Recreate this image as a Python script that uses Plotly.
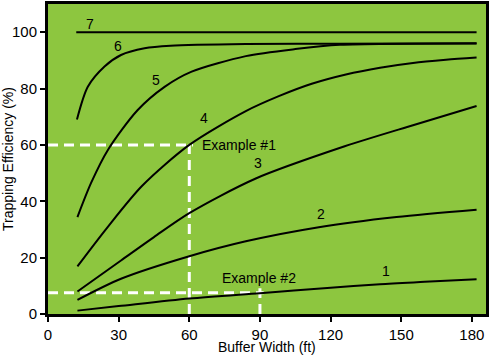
import plotly.graph_objects as go

# ---- data ----
c1_x = [12.5, 30, 60, 90, 120, 141, 160, 182]
c1_y = [1.2, 2.8, 5.5, 7.4, 9.3, 10.6, 11.4, 12.3]

c2_x = [12.5, 31, 60, 84, 115, 148, 182]
c2_y = [5.0, 12.5, 20.5, 25.8, 30.8, 34.4, 37.0]

c3_x = [12.5, 31, 45, 60, 88, 126, 155, 182]
c3_y = [8.0, 19.0, 27.3, 35.8, 48.0, 59.5, 67.0, 73.8]

c4_x = [12.5, 25, 40, 60, 84, 98, 112, 126.5, 141, 155, 169, 182]
c4_y = [16.9, 30.5, 45.5, 60.0, 72.0, 77.3, 81.7, 85.0, 87.4, 89.1, 90.2, 91.0]

c5_x = [12.5, 18.3, 25.5, 38, 49.5, 61, 84, 105, 124, 182]
c5_y = [34.4, 46.5, 58.3, 72.3, 80.6, 86.0, 91.5, 94.0, 95.5, 96.0]

c6_x = [12.3, 16.9, 24, 31, 41, 52, 84, 124, 182]
c6_y = [69.0, 80.6, 87.8, 91.9, 94.3, 95.2, 95.8, 95.9, 96.1]

c7_x = [12, 182]
c7_y = [100, 100]

curves = [(c1_x, c1_y), (c2_x, c2_y), (c3_x, c3_y), (c4_x, c4_y),
          (c5_x, c5_y), (c6_x, c6_y), (c7_x, c7_y)]

curve_labels = ["1", "2", "3", "4", "5", "6", "7"]
label_x = [143.5, 116, 89.3, 66.4, 45.9, 29.6, 18]
label_y = [15.4, 35.6, 53.6, 69.4, 83, 95.1, 103]

examples = ["Example #1", "Example #2"]
ex_x = [60, 90]
ex_y = [60, 7.5]
ex_label_x = [81, 89.5]
ex_label_y = [60, 12.8]

x_ticks = [0, 30, 60, 90, 120, 150, 180]
y_ticks = [0, 20, 40, 60, 80, 100]

GREEN = "#8DC63F"
FONT = "Arial, Liberation Sans, sans-serif"
OVER = 1.6  # small cross overshoot of the example guides

fig = go.Figure()

# example guide lines (white dashed)
for xv, yv in zip(ex_x, ex_y):
    fig.add_trace(go.Scatter(x=[0, xv + OVER], y=[yv, yv], mode="lines",
                             line=dict(color="white", width=3, dash="10px,6px"),
                             hoverinfo="skip", showlegend=False))
    fig.add_trace(go.Scatter(x=[xv, xv], y=[0, yv + OVER], mode="lines",
                             line=dict(color="white", width=3, dash="10px,6px"),
                             hoverinfo="skip", showlegend=False))

for cx, cy in curves:
    fig.add_trace(go.Scatter(x=cx, y=cy, mode="lines",
                             line=dict(color="black", width=2, shape="spline", smoothing=0.8),
                             showlegend=False))

for t, xv, yv in zip(curve_labels, label_x, label_y):
    fig.add_annotation(x=xv, y=yv, text=t, showarrow=False,
                       font=dict(family=FONT, size=14, color="black"))
for t, xv, yv in zip(examples, ex_label_x, ex_label_y):
    fig.add_annotation(x=xv, y=yv, text=t, showarrow=False,
                       font=dict(family=FONT, size=14, color="black"))

# axis titles as paper-anchored annotations
fig.add_annotation(xref="paper", yref="paper", x=0.5, y=0, yshift=-33,
                   xanchor="center", yanchor="middle",
                   text="Buffer Width (ft)", showarrow=False,
                   font=dict(family=FONT, size=14, color="black"))
fig.add_annotation(xref="paper", yref="paper", x=0, y=0.5, xshift=-40,
                   xanchor="center", yanchor="middle",
                   text="Trapping Efficiency (%)", textangle=-90, showarrow=False,
                   font=dict(family=FONT, size=14, color="black"))

fig.update_layout(
    width=490, height=357,
    margin=dict(l=48, r=4, t=4, b=43),
    paper_bgcolor="white",
    plot_bgcolor=GREEN,
    font=dict(family=FONT, size=14, color="black"),
    xaxis=dict(range=[0, 186], tickvals=x_ticks, showgrid=False, zeroline=False,
               automargin=False,
               showline=True, linecolor="black", linewidth=3, mirror=True,
               ticks="outside", ticklen=5, tickwidth=2, tickcolor="black",
               tickfont=dict(family=FONT, size=15)),
    yaxis=dict(range=[0, 110], tickvals=y_ticks, showgrid=False, zeroline=False,
               automargin=False,
               showline=True, linecolor="black", linewidth=3, mirror=True,
               ticks="outside", ticklen=5, tickwidth=2, tickcolor="black",
               tickfont=dict(family=FONT, size=15)),
)

fig.write_html("out.html", config={"displayModeBar": False},
               post_script="document.body.style.margin='0';")
